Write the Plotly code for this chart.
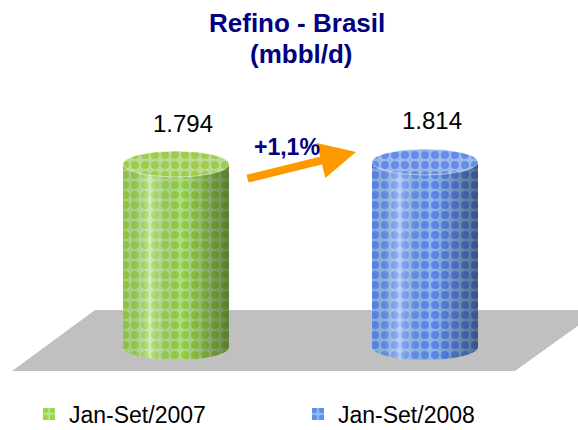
import numpy as np
import plotly.graph_objects as go

# ---------------- data ----------------
categories = ["Jan-Set/2007", "Jan-Set/2008"]
values = [1.794, 1.814]
value_labels = ["1.794", "1.814"]
change_label = "+1,1%"
title_lines = ["Refino - Brasil", "(mbbl/d)"]

# ---------------- style ----------------
W, H = 578, 430          # visible area
EXTRA_B = 24             # hidden room under the view for the legend box
FONT = "Arial, Liberation Sans, sans-serif"
NAVY = "#000080"
X_RANGE = [-0.7068, 1.6145]
Y_RANGE = [-0.814, 3.402]
BAR_W = 0.4257
CAP_B = 0.1275
body_bg = ["#B2E88E", "#92BEF8"]
body_fg = ["#8CBF00", "#2D5DF0"]
cap_bg = ["#B8DC96", "#9AB8EC"]
cap_fg = ["#8DBA00", "#3060E0"]
floor_px = [(95, 310), (600, 310), (515, 371), (12, 371)]
legend_x_px = [29, 298]
legend_y_px = 414

fig = go.Figure()

xs = list(range(len(categories)))
a = BAR_W / 2
th_low = np.linspace(0, np.pi, 60)

for i, (xc, v) in enumerate(zip(xs, values)):
    pat = dict(shape=".", size=10, solidity=0.5, fgcolor=body_fg[i],
               bgcolor=body_bg[i], fillmode="overlay")
    fig.add_trace(go.Bar(
        x=[xc], y=[v], width=BAR_W, name=categories[i],
        marker=dict(color=body_bg[i], pattern=pat, line=dict(width=0)),
        legend="legend" if i == 0 else "legend2", showlegend=True,
        hoverinfo="skip"))
    bx = xc + a * np.cos(th_low)
    by = -CAP_B * np.sin(th_low)
    fig.add_trace(go.Scatter(
        x=bx, y=by, mode="none", fill="toself", fillcolor=body_bg[i],
        fillpattern=pat, showlegend=False, hoverinfo="skip"))
    sx = np.concatenate([[xc - a, xc + a], bx])
    sy = np.concatenate([[v, v], by])
    fig.add_trace(go.Scatter(
        x=sx, y=sy, mode="none", fill="toself",
        fillgradient=dict(type="horizontal", colorscale=[
            [0.0, "rgba(0,0,0,0.08)"],
            [0.25, "rgba(255,255,255,0.35)"],
            [0.55, "rgba(0,0,0,0.03)"],
            [1.0, "rgba(0,0,0,0.42)"]]),
        showlegend=False, hoverinfo="skip"))
    th = np.linspace(0, 2 * np.pi, 90)
    fig.add_trace(go.Scatter(
        x=xc + a * np.cos(th), y=v + CAP_B * np.sin(th), mode="lines",
        line=dict(color="rgba(255,255,255,0.5)", width=1), fill="toself",
        fillcolor=cap_bg[i],
        fillpattern=dict(shape=".", size=10, solidity=0.5, fgcolor=cap_fg[i],
                         bgcolor=cap_bg[i], fillmode="overlay"),
        showlegend=False, hoverinfo="skip"))

annotations = []
for i, (xc, v) in enumerate(zip(xs, values)):
    annotations.append(dict(x=xc, y=v, xref="x", yref="y", text=value_labels[i],
                            showarrow=False, xshift=7, yshift=41,
                            xanchor="center", yanchor="middle",
                            font=dict(family=FONT, size=24, color="black")))
annotations.append(dict(x=297 / W, y=1 - 23 / H, xref="paper", yref="paper",
                        xanchor="center", yanchor="middle",
                        text="<b>%s</b>" % title_lines[0], showarrow=False,
                        font=dict(family=FONT, size=26, color=NAVY)))
annotations.append(dict(x=301 / W, y=1 - 54 / H, xref="paper", yref="paper",
                        xanchor="center", yanchor="middle",
                        text="<b>%s</b>" % title_lines[1], showarrow=False,
                        font=dict(family=FONT, size=26, color=NAVY)))
annotations.append(dict(x=356 / W, y=1 - 152 / H, xref="paper", yref="paper",
                        ax=-110, ay=27, text="", showarrow=True,
                        arrowhead=2, arrowsize=0.9, arrowwidth=8,
                        arrowcolor="#FF9900"))
annotations.append(dict(x=287 / W, y=1 - 147 / H, xref="paper", yref="paper",
                        xanchor="center", yanchor="middle",
                        text="<b>%s</b>" % change_label, showarrow=False,
                        font=dict(family=FONT, size=23, color=NAVY)))

floor_path = "M " + " L ".join("%.4f,%.4f" % (px / W, 1 - py / H) for px, py in floor_px) + " Z"

legend_common = dict(y=1 - legend_y_px / H, xanchor="left", yanchor="middle",
                     bgcolor="rgba(0,0,0,0)", itemwidth=30,
                     font=dict(family=FONT, size=23, color="black"))

fig.update_layout(
    width=W, height=H + EXTRA_B,
    margin=dict(l=0, r=0, t=0, b=EXTRA_B, autoexpand=False),
    paper_bgcolor="white", plot_bgcolor="rgba(0,0,0,0)",
    barmode="overlay",
    xaxis=dict(range=X_RANGE, visible=False, fixedrange=True),
    yaxis=dict(range=Y_RANGE, visible=False, fixedrange=True),
    shapes=[dict(type="path", path=floor_path, xref="paper", yref="paper",
                 fillcolor="#C0C0C0", line=dict(width=0), layer="below")],
    annotations=annotations,
    legend=dict(x=legend_x_px[0] / W, **legend_common),
    legend2=dict(x=legend_x_px[1] / W, **legend_common),
    showlegend=True,
)

fig.write_html("out.html", config={"displayModeBar": False},
               post_script="document.body.style.margin='0';document.body.style.overflow='hidden';")
